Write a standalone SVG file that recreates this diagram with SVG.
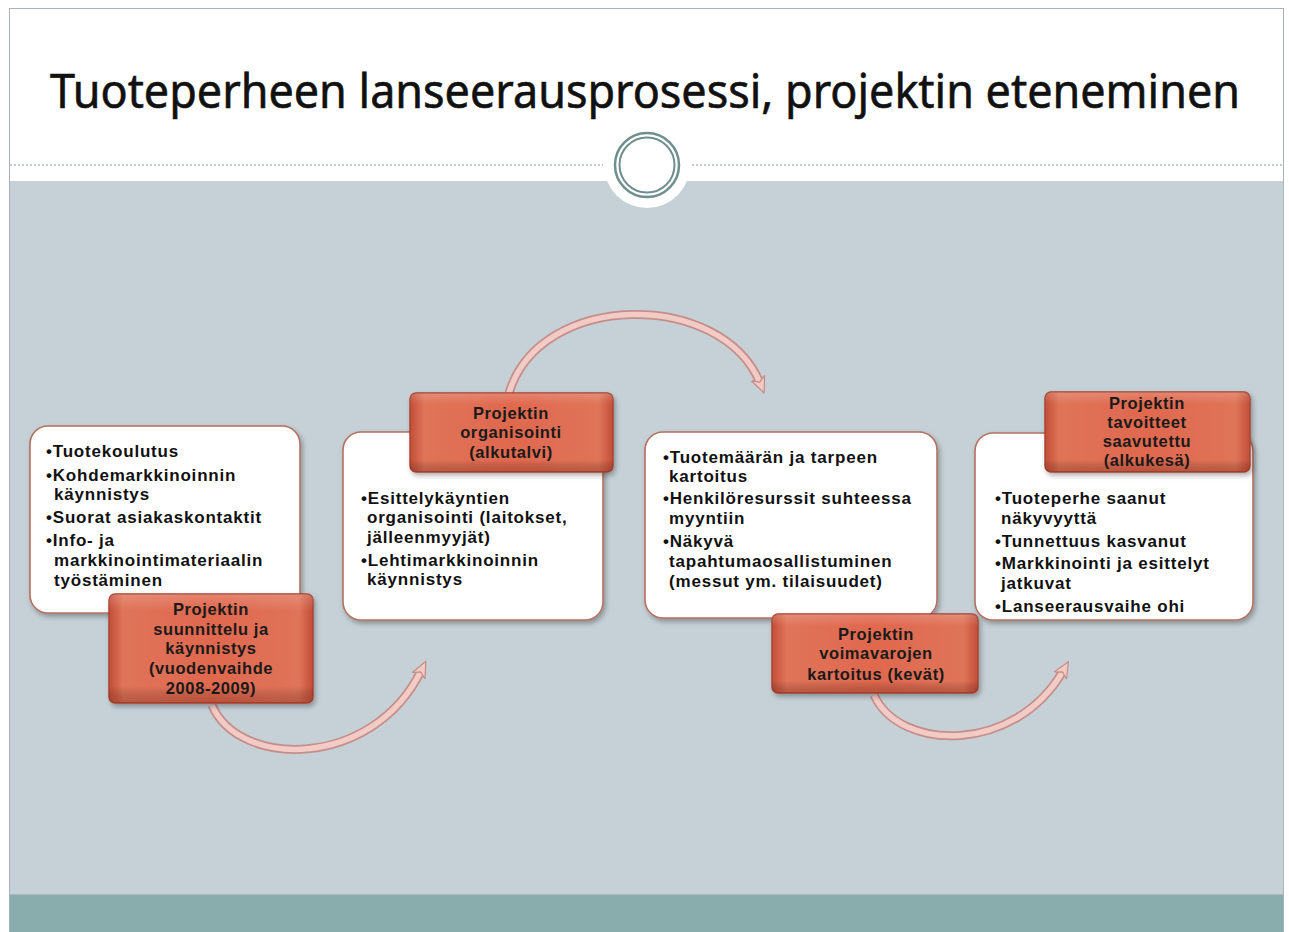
<svg xmlns="http://www.w3.org/2000/svg" width="1289" height="932" viewBox="0 0 1289 932">
<defs>
<style>
.wbox{fill:#ffffff;stroke:#b5705f;stroke-width:1.6;filter:url(#sh)}
.obox{fill:url(#og);stroke:#a8402e;stroke-width:1.4;filter:url(#sh)}
.t{font-family:"Liberation Sans",Arial,sans-serif;font-weight:bold;font-size:17px;letter-spacing:0.8px;fill:#111}
.ot{font-family:"Liberation Sans",Arial,sans-serif;font-weight:bold;font-size:16.5px;letter-spacing:0.6px;fill:#1a1a1a;text-anchor:middle}
.arrowOut{fill:none;stroke:#c58e88;stroke-width:9;stroke-linecap:butt}
.arrowIn{fill:none;stroke:#f2cbc6;stroke-width:5.5;stroke-linecap:butt}
</style>
<linearGradient id="og" x1="0" y1="0" x2="1" y2="0">
<stop offset="0" stop-color="#c24e38"/>
<stop offset="0.07" stop-color="#df7459"/>
<stop offset="0.5" stop-color="#e0684e"/>
<stop offset="0.93" stop-color="#df7459"/>
<stop offset="1" stop-color="#c24e38"/>
</linearGradient>
<linearGradient id="ov" x1="0" y1="0" x2="0" y2="1">
<stop offset="0" stop-color="#ffffff" stop-opacity="0.18"/>
<stop offset="0.15" stop-color="#ffffff" stop-opacity="0"/>
<stop offset="0.85" stop-color="#000000" stop-opacity="0"/>
<stop offset="1" stop-color="#7a2a1c" stop-opacity="0.35"/>
</linearGradient>
<filter id="sh" x="-10%" y="-10%" width="125%" height="130%">
<feDropShadow dx="2" dy="3" stdDeviation="2.5" flood-color="#000" flood-opacity="0.3"/>
</filter>
<marker id="ah" viewBox="0 0 20 20" refX="6" refY="10" markerWidth="18" markerHeight="18" markerUnits="userSpaceOnUse" orient="auto">
<path d="M0,2 L18,10 L0,18 L5,10 Z" fill="#f2cbc6" stroke="#c58e88" stroke-width="1.4" stroke-linejoin="round"/>
</marker>
</defs>

<!-- slide background -->
<rect x="0" y="0" width="1289" height="932" fill="#ffffff"/>
<rect x="9.5" y="8.5" width="1274" height="930" fill="#ffffff" stroke="#a9b4b8" stroke-width="1"/>
<rect x="10" y="181" width="1273" height="714" fill="#c5d1d7"/>
<rect x="10" y="894" width="1273" height="38" fill="#89adac"/>
<line x1="10" y1="894.5" x2="1283" y2="894.5" stroke="#aab9bd" stroke-width="1"/>

<!-- header -->
<line x1="10" y1="165" x2="603" y2="165" stroke="#8a9396" stroke-width="1.2" stroke-dasharray="2 2"/>
<line x1="692" y1="165" x2="1283" y2="165" stroke="#8a9396" stroke-width="1.2" stroke-dasharray="2 2"/>
<circle cx="647" cy="165" r="43" fill="#ffffff"/>
<circle cx="647" cy="165" r="32" fill="none" stroke="#6f8f8e" stroke-width="2.5"/>
<circle cx="647" cy="165" r="27.5" fill="none" stroke="#6f8f8e" stroke-width="2"/>
<text x="645" y="108" text-anchor="middle" textLength="1190" lengthAdjust="spacingAndGlyphs" font-family="'Noto Sans','Open Sans',sans-serif" font-size="47" fill="#111" stroke="#111" stroke-width="0.6">Tuoteperheen lanseerausprosessi, projektin eteneminen</text>

<!-- connectors -->
<g id="connectors">
<path class="arrowOut" d="M212,705 C238,768 372,770 421,671"/>
<path class="arrowIn" d="M212,705 C238,768 372,770 421,671" marker-end="url(#ah)"/>
<path class="arrowOut" d="M509,393 C540,290 722,290 760,383"/>
<path class="arrowIn" d="M509,393 C540,290 722,290 760,383" marker-end="url(#ah)"/>
<path class="arrowOut" d="M874,695 C900,752 1015,754 1063,671"/>
<path class="arrowIn" d="M874,695 C900,752 1015,754 1063,671" marker-end="url(#ah)"/>
</g>

<!-- step 1 -->
<g id="node1-details">
<rect class="wbox" x="30" y="426" width="270" height="187" rx="18"/>
<text class="t" x="46" y="457">•Tuotekoulutus</text>
<text class="t" x="46" y="481">•Kohdemarkkinoinnin</text>
<text class="t" x="54" y="500">käynnistys</text>
<text class="t" x="46" y="523">•Suorat asiakaskontaktit</text>
<text class="t" x="46" y="546">•Info- ja</text>
<text class="t" x="54" y="566">markkinointimateriaalin</text>
<text class="t" x="54" y="586">työstäminen</text>
</g>
<g id="node1-label">
<rect class="obox" x="109" y="594" width="204" height="109" rx="6"/>
<rect x="109" y="594" width="204" height="109" rx="6" fill="url(#ov)"/>
<text class="ot" x="211" y="615">Projektin</text>
<text class="ot" x="211" y="635">suunnittelu ja</text>
<text class="ot" x="211" y="654">käynnistys</text>
<text class="ot" x="211" y="674">(vuodenvaihde</text>
<text class="ot" x="211" y="694">2008-2009)</text>
</g>

<!-- step 2 -->
<g id="node2-details">
<rect class="wbox" x="343" y="432" width="260" height="188" rx="18"/>
<text class="t" x="361" y="504">•Esittelykäyntien</text>
<text class="t" x="367" y="523">organisointi (laitokset,</text>
<text class="t" x="367" y="543">jälleenmyyjät)</text>
<text class="t" x="361" y="566">•Lehtimarkkinoinnin</text>
<text class="t" x="367" y="585">käynnistys</text>
</g>
<g id="node2-label">
<rect class="obox" x="410" y="393" width="203" height="79" rx="6"/>
<rect x="410" y="393" width="203" height="79" rx="6" fill="url(#ov)"/>
<text class="ot" x="511" y="419">Projektin</text>
<text class="ot" x="511" y="438">organisointi</text>
<text class="ot" x="511" y="458">(alkutalvi)</text>
</g>

<!-- step 3 -->
<g id="node3-details">
<rect class="wbox" x="645" y="432" width="292" height="186" rx="18"/>
<text class="t" x="663" y="463">•Tuotemäärän ja tarpeen</text>
<text class="t" x="669" y="482">kartoitus</text>
<text class="t" x="663" y="504">•Henkilöresurssit suhteessa</text>
<text class="t" x="669" y="524">myyntiin</text>
<text class="t" x="663" y="547">•Näkyvä</text>
<text class="t" x="669" y="567">tapahtumaosallistuminen</text>
<text class="t" x="669" y="587">(messut ym. tilaisuudet)</text>
</g>
<g id="node3-label">
<rect class="obox" x="772" y="614" width="206" height="79" rx="6"/>
<rect x="772" y="614" width="206" height="79" rx="6" fill="url(#ov)"/>
<text class="ot" x="876" y="640">Projektin</text>
<text class="ot" x="876" y="659">voimavarojen</text>
<text class="ot" x="876" y="680">kartoitus (kevät)</text>
</g>

<!-- step 4 -->
<g id="node4-details">
<rect class="wbox" x="975" y="433" width="278" height="187" rx="18"/>
<text class="t" x="995" y="504">•Tuoteperhe saanut</text>
<text class="t" x="1001" y="524">näkyvyyttä</text>
<text class="t" x="995" y="547">•Tunnettuus kasvanut</text>
<text class="t" x="995" y="569">•Markkinointi ja esittelyt</text>
<text class="t" x="1001" y="589">jatkuvat</text>
<text class="t" x="995" y="612">•Lanseerausvaihe ohi</text>
</g>
<g id="node4-label">
<rect class="obox" x="1045" y="392" width="205" height="80" rx="6"/>
<rect x="1045" y="392" width="205" height="80" rx="6" fill="url(#ov)"/>
<text class="ot" x="1147" y="409">Projektin</text>
<text class="ot" x="1147" y="428">tavoitteet</text>
<text class="ot" x="1147" y="447">saavutettu</text>
<text class="ot" x="1147" y="466">(alkukesä)</text>
</g>
</svg>
